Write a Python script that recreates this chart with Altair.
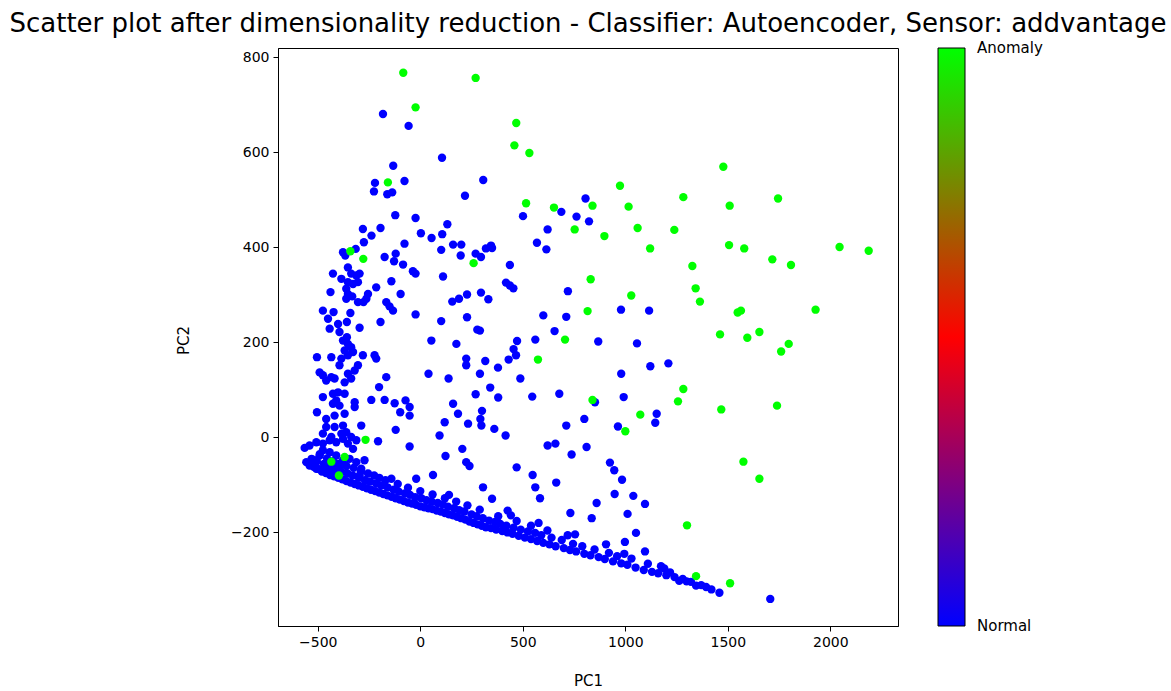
import altair as alt
import pandas as pd

# ---- data (PC1, PC2) ----
anomaly_x = [-83, 270, -23, 468, 459, 532, -158, 974, 1283, 516, 840, 1016, 652, 1509, 1745, 1478,
             753, 1060, 1239, 898, 1121, 1506, 1580, 2045, 2187, -341, -278, 260, 1327, 1717, 1808,
             831, 1343, 1364, 1029, 1548, 1564, 1928, 816, 1462, 1595, 1654, 1797, 1760, 706, 574,
             1283, 1468, 1740, 840, 1257, 1073, 1000, -267, -434, -397, -369, 1576, 1654, 1301, 1345, 1511]
anomaly_y = [768, 757, 695, 662, 615, 599, 537, 530, 506, 493, 488, 486, 484, 488, 503, 570,
             438, 441, 437, 424, 398, 405, 398, 401, 393, 392, 376, 367, 361, 375, 363,
             333, 314, 286, 299, 263, 267, 269, 266, 217, 210, 222, 197, 181, 206, 164,
             102, 59, 67, 79, 76, 48, 13, -5, -51, -80, -41, -51, -87, -185, -292, -307]

normal_x = [
    # upper scattered
    -182, -57, 106, -132, -221, -226, -161, -137, -77, 307, 218, -122, -23, 132, -280, -194, -238, 3, 55, 107,
    -275, -77, 160, 200, 806, 688, 501, 762, 823, 621, 569, 345,
    320, 350, 296, 615, 437, 418, 437, 454, 720, 296, 332, 600, 712, 979, 1116, 291, 655, 472, 561, 868, 1057,
    455, 467, 431, 317, 379, 1122, 1210, 291, 488, 980, 341, 380, 546, 678, 852, 992, 301, 1153, 1146, 800,
    712, 964, 298, 361, 416,
    # left column
    -377, -366, -315, 102, 197, 270, -174, -120, -128, -84, -36, -23, 111, -426, -385, -353, -337, -312, -296,
    -353, -328, -304, -141, -215, -96, -438, -361, -353, -361, -332, -304, -277, -255, -263, -166, -150, -133,
    -23, -475, -423, -341, 156, 189, 228, -194, 102, 228, -450, -442, -401, -358, -296, 278, -394, -358, -377,
    -353, -337, -328, -369, -353, 54, 176, -504, -434, -385, -394, -280, -223, -215, -304, -320, -353, -337,
    -369, 224, 224, -491, -475, -459, -434, -418, -166, -201, 40, 138, -475, -426, -401, -369, -410, -394,
    -426, -320, -320, -239, -174, -125, -72, -52, -98, -52, 160, 184, 119, 233, 293, 270, -504, -459, -418,
    -369, -459, -418, -377, -475, -434, -385, -361, -337, -288, -120, 94,
    # around zero and below
    -206, -52, 205, 123, 224, 240, 62, 140, 306, -564, -540, -507, -475, -442, -410, -377, -353, -328, -312,
    -556, -532, -507, -491, -467, -507, -475, -442, -418, -394, -377, -345, -312, -288, -272, -296, -410, -442,
    -475, -20, -141,
    621, 659, 811, 738, 470, 925, 946, 984, 548, 561, 584, 663, 350, 948, 1039, 1096, 860, 732, 836, 1011, 577,
    426, 442, 1052, 719, 755, 998, 906, 1096, 995, 1174, 1218, 1263, 1299, 1345, 1394, 1459, 1707,
    # lower band, first row
    -540, -520, -500, -480, -460, -440, -420, -400, -380, -360, -340, -320, -300, -280, -260, -240, -220, -200,
    -180, -160, -140, -120, -100, -80, -60, -40, -20, 0, 20, 40, 60, 80, 100, 120, 140, 160, 180, 200, 220, 240,
    260, 280, 300, 320, 345, 370, 400, 425, 450, 480, 510, 540, 570, 600, 630, 660, 700, 730, 760, 800, 830, 870,
    900, 940, 980, 1010, 1050, 1090, 1130, 1160, 1200, 1240, 1280, 1320, 1370, 1420,
    # lower band, second row
    -530, -505, -470, -445, -415, -385, -355, -330, -300, -270, -245, -215, -190, -160, -130, -105, -75, -50,
    -25, 5, 30, 55, 85, 110, 135, 165, 190, 215, 250, 275, 305, 335, 365, 390, 420, 455, 490, 525, 560, 590,
    640, 690, 745, 790, 850, 920, 960, 1030, 1110, 1190,
    # lower band, third row
    -490, -455, -425, -395, -360, -325, -290, -255, -225, -200, -170, -110, -60, 0, 60, 120, 175, 230, 290,
    380, 470, 540, 620,
]
normal_y = [
    681, 656, 589, 572, 536, 518, 512, 516, 540, 542, 509, 468, 462, 449, 439, 441, 425, 430, 420, 428,
    411, 408, 406, 406, 503, 475, 466, 465, 455, 438, 410, 404,
    398, 399, 380, 396, 363, 326, 320, 314, 308, 305, 291, 257, 254, 269, 267, 225, 224, 203, 206, 202, 198,
    186, 173, 164, 161, 147, 150, 156, 134, 124, 134, 105, 84, 86, 92, 74, 85, 56, 50, 31, 39,
    25, 23, 25, 18, 4,
    390, 383, 397, 395, 383, 387, 380, 387, 371, 364, 350, 345, 339, 345, 334, 358, 345, 341, 345,
    327, 323, 327, 329, 316, 302, 306, 313, 302, 292, 297, 285, 285, 302, 292, 285, 276, 267,
    259, 267, 264, 262, 286, 292, 301, 243, 245, 253, 250, 229, 239, 243, 231, 227, 222, 211, 204,
    197, 190, 180, 183, 173, 204, 197, 169, 169, 166, 152, 173, 173, 166, 152, 141, 134, 124,
    116, 166, 152, 137, 131, 120, 127, 124, 127, 106, 134, 124, 85, 92, 95, 92, 78, 67,
    71, 74, 64, 79, 79, 72, 78, 64, 53, 46, 71, 50, 32, 29, 39, 91, 53, 39, 46,
    50, 22, 22, 25, 8, 1, 8, 11, 1, 25, 16, 4,
    -8, -19, -24, -39, -52, -60, -79, -121, -105, -22, -17, -10, -13, -6, -10, -3, -13, -24, -6,
    -52, -57, -48, -38, -59, -66, -69, -73, -66, -63, -48, -45, -52, -66, -48, -80, -38, -31,
    -27, -87, -87,
    -17, -13, -20, -36, -63, -53, -69, -89, -79, -105, -128, -95, -129, -119, -123, -140, -138, -159, -170, -161, -180,
    -154, -164, -201, -206, -204, -220, -225, -240, -245, -271, -284, -302, -303, -312, -315, -327, -340,
    -59, -62, -66, -72, -75, -79, -82, -85, -88, -92, -95, -98, -101, -104, -107, -110, -113, -116,
    -119, -122, -125, -128, -131, -134, -137, -139, -142, -145, -147, -149, -151, -154, -156, -159, -162, -164, -167, -170, -173, -177,
    -180, -183, -186, -189, -191, -194, -197, -200, -203, -207, -211, -214, -218, -222, -225, -229, -233, -237, -240, -245, -248, -252,
    -256, -261, -265, -268, -274, -279, -283, -286, -290, -294, -298, -304, -311, -320,
    -45, -50, -56, -62, -66, -72, -76, -80, -85, -90, -93, -97, -101, -105, -110, -114, -118, -121,
    -126, -128, -132, -135, -138, -141, -146, -149, -153, -156, -162, -166, -170, -175, -178, -182, -186, -190, -194, -198, -201, -206,
    -211, -216, -224, -229, -236, -243, -250, -255, -266, -276,
    -35, -44, -50, -55, -60, -64, -71, -76, -80, -85, -90, -98, -106, -113, -120, -128, -135, -143, -152,
    -166, -176, -186, -196,
]

class_labels = ["Normal", "Anomaly"]
x_ticks = [-500, 0, 500, 1000, 1500, 2000]
y_ticks = [-200, 0, 200, 400, 600, 800]

n = min(len(normal_x), len(normal_y))
df = pd.concat([
    pd.DataFrame({"PC1": normal_x[:n], "PC2": normal_y[:n], "anomaly": 0, "order": 0}),
    pd.DataFrame({"PC1": anomaly_x, "PC2": anomaly_y, "anomaly": 1, "order": 1}),
], ignore_index=True)

FONT = "DejaVu Sans"

chart = alt.Chart(df).mark_circle(size=70, opacity=1).encode(
    x=alt.X("PC1:Q", scale=alt.Scale(domain=[-694, 2330], nice=False, zero=False),
            axis=alt.Axis(values=x_ticks, format="d", title="PC1", titleX=310, titleY=54,
                          titleBaseline="middle", titleAlign="center")),
    y=alt.Y("PC2:Q", scale=alt.Scale(domain=[-397, 820], nice=False, zero=False),
            axis=alt.Axis(values=y_ticks, format="d", title="PC2", titleX=-95, titleY=292,
                          titleAngle=-90, titleBaseline="middle", titleAlign="center")),
    color=alt.Color("anomaly:Q",
                    scale=alt.Scale(domain=[0, 1], range=["#0000ff", "#ff0000", "#00ff00"],
                                    interpolate="rgb"),
                    legend=alt.Legend(
                        orient="none", legendX=660, legendY=0, direction="vertical",
                        gradientLength=578, gradientThickness=27, values=[0.0001, 0.9999],
                        title=None,
                        labelExpr=f"datum.value < 0.5 ? '{class_labels[0]}' : '{class_labels[1]}'",
                        labelFontSize=15, labelFont=FONT, labelColor="#000000",
                        labelOffset=12, labelBaseline="middle", labelOverlap=False,
                        gradientStrokeColor="#000000", gradientStrokeWidth=1)),
    order=alt.Order("order:Q"),
).properties(
    width=620, height=578,
    title=alt.Title("Scatter plot after dimensionality reduction - Classifier: Autoencoder, Sensor: addvantage",
                    fontSize=26, font=FONT, fontWeight="normal", color="#000000",
                    anchor="middle", frame="group", offset=11),
    autosize=alt.AutoSizeParams(type="none"),
    padding={"left": 278, "top": 48, "right": 273, "bottom": 65},
).configure_view(
    stroke="#000000", strokeWidth=1
).configure_axis(
    domainColor="#000000", tickColor="#000000", tickSize=5, grid=False,
    labelFont=FONT, labelFontSize=14, labelColor="#000000", labelPadding=4,
    titleFont=FONT, titleFontSize=15, titleColor="#000000", titleFontWeight="normal",
)

chart.save("out.html", embed_options={"renderer": "svg", "actions": False})
